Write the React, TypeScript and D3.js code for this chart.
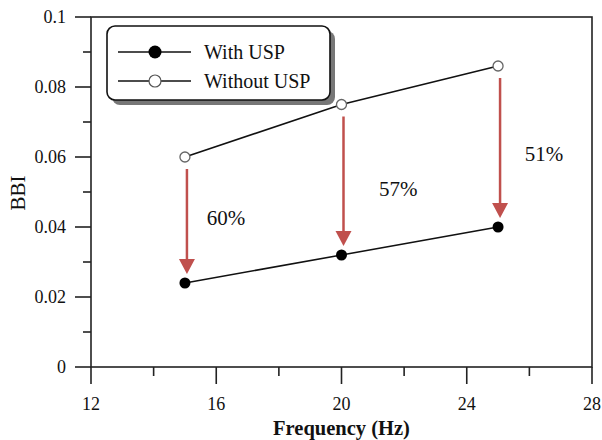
import React from 'react';
import * as d3 from 'd3';

const frequencies = [15, 20, 25];
const withUSP = [0.024, 0.032, 0.04];
const withoutUSP = [0.06, 0.075, 0.086];
const reductionLabels = ['60%', '57%', '51%'];
// label anchors in data units (frequency, BBI)
const labelFreq = [15.7, 21.2, 25.85];
const labelBBI = [0.0405, 0.049, 0.059];

const xTicks = [12, 16, 20, 24, 28];
const xMinor = [14, 18, 22, 26];
const yTicks = [0, 0.02, 0.04, 0.06, 0.08, 0.1];
const yMinor = [0.01, 0.03, 0.05, 0.07, 0.09];

const W = 602;
const H = 440;
const margin = { top: 17, right: 10, bottom: 73, left: 91 };
const FONT = '"Liberation Serif", "Times New Roman", serif';
const RED = '#c0504d';

const App = () => {
  const x = d3.scaleLinear().domain([12, 28]).range([margin.left, W - margin.right]);
  const y = d3.scaleLinear().domain([0, 0.1]).range([H - margin.bottom, margin.top]);
  const x0 = x(12);
  const x1 = x(28);
  const yb = y(0);
  const yt = y(0.1);

  const line = d3.line<number>().x((_, i) => x(frequencies[i])).y((d) => y(d));

  return (
    <svg width={W} height={H} style={{ position: 'absolute', left: 0, top: 0, background: '#fff' }} fontFamily={FONT}>
      {/* frame */}
      <rect x={x0} y={yt} width={x1 - x0} height={yb - yt} fill="none" stroke="#222" strokeWidth={1.6} />

      {/* y ticks */}
      {yTicks.map((t) => (
        <g key={'y' + t}>
          <line x1={x0 - 16} x2={x0} y1={y(t)} y2={y(t)} stroke="#222" strokeWidth={1.6} />
          <text x={x0 - 25} y={y(t) + 6} textAnchor="end" fontSize={18} fill="#111">
            {t === 0 ? '0' : String(+t.toFixed(2))}
          </text>
        </g>
      ))}
      {yMinor.map((t) => (
        <line key={'ym' + t} x1={x0 - 8} x2={x0} y1={y(t)} y2={y(t)} stroke="#222" strokeWidth={1.6} />
      ))}

      {/* x ticks */}
      {xTicks.map((t) => (
        <g key={'x' + t}>
          <line x1={x(t)} x2={x(t)} y1={yb} y2={yb + 17} stroke="#222" strokeWidth={1.6} />
          <text x={x(t)} y={yb + 43} textAnchor="middle" fontSize={18} fill="#111">
            {t}
          </text>
        </g>
      ))}
      {xMinor.map((t) => (
        <line key={'xm' + t} x1={x(t)} x2={x(t)} y1={yb} y2={yb + 9} stroke="#222" strokeWidth={1.6} />
      ))}

      {/* axis titles */}
      <text x={x(20)} y={435} textAnchor="middle" fontSize={20.5} fontWeight="bold" fill="#111">
        Frequency (Hz)
      </text>
      <text transform={`translate(25, ${y(0.05) + 1}) rotate(-90)`} textAnchor="middle" fontSize={21} fill="#111">
        BBI
      </text>

      {/* series lines */}
      <path d={line(withoutUSP) || ''} fill="none" stroke="#111" strokeWidth={1.6} />
      <path d={line(withUSP) || ''} fill="none" stroke="#111" strokeWidth={1.6} />

      {/* arrows */}
      {frequencies.map((f, i) => {
        const ax = x(f) + 2;
        const ys = y(withoutUSP[i]) + 12;
        const tip = y(withUSP[i]) - 9;
        const head = 15;
        return (
          <g key={'a' + f}>
            <line x1={ax} x2={ax} y1={ys} y2={tip - head + 1} stroke={RED} strokeWidth={2.5} />
            <path d={`M${ax - 8},${tip - head} L${ax + 8},${tip - head} L${ax},${tip} Z`} fill={RED} />
          </g>
        );
      })}

      {/* markers */}
      {withoutUSP.map((v, i) => (
        <circle key={'o' + i} cx={x(frequencies[i])} cy={y(v)} r={5} fill="#fff" stroke="#666" strokeWidth={1.3} />
      ))}
      {withUSP.map((v, i) => (
        <circle key={'f' + i} cx={x(frequencies[i])} cy={y(v)} r={5.5} fill="#000" />
      ))}

      {/* reduction labels */}
      {reductionLabels.map((s, i) => (
        <text key={'l' + i} x={x(labelFreq[i])} y={y(labelBBI[i])} fontSize={21} fill="#111">
          {s}
        </text>
      ))}

      {/* legend */}
      <g>
        <rect x={112} y={31} width={223} height={74} rx={8} fill="#777" />
        <rect x={107} y={26} width={223} height={74} rx={8} fill="#fff" stroke="#111" strokeWidth={1.6} />
        <line x1={118} x2={191} y1={52} y2={52} stroke="#111" strokeWidth={1.6} />
        <circle cx={155} cy={52} r={6.5} fill="#000" />
        <text x={204} y={59} fontSize={20} fill="#111">With USP</text>
        <line x1={118} x2={191} y1={81} y2={81} stroke="#111" strokeWidth={1.6} />
        <circle cx={155} cy={81} r={6} fill="#fff" stroke="#555" strokeWidth={1.2} />
        <text x={204} y={88} fontSize={20} fill="#111">Without USP</text>
      </g>
    </svg>
  );
};

export default App;
